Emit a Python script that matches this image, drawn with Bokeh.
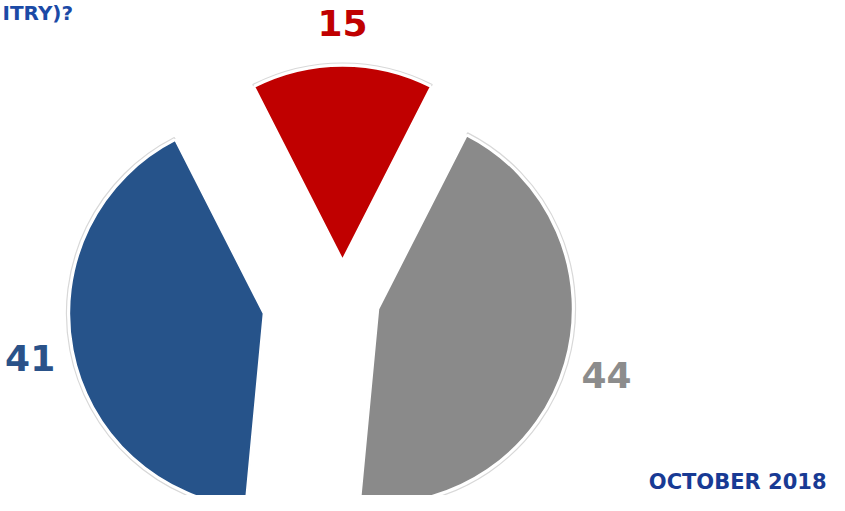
import math
from bokeh.plotting import figure
from bokeh.models import Range1d, ColumnDataSource
from bokeh.core.properties import value
from bokeh.embed import file_html
from bokeh.resources import INLINE

# ---- data ----
categories = ["Red", "Blue", "Gray"]
values = [15, 41, 44]
slice_colors = ["#C00000", "#26538A", "#8A8A8A"]
label_colors = ["#C00000", "#2A5289", "#8C8C8C"]
title_text = "ITRY)?"
date_text = "OCTOBER 2018"

# ---- style / geometry (pixel units; y measured upward from the 511px image bottom) ----
W, H = 829, 495
explode = [38, 80, 37]
radius = 195
label_r = 238
label_px = 36
cx, cy = 342, 511 - 298

total = float(sum(values))
start0 = math.pi / 2 - values[0] / total * math.pi  # first slice centred at top

starts, ends, xs, ys, lx, ly, texts = [], [], [], [], [], [], []
a = start0
for v, e in zip(values, explode):
    span = v / total * 2 * math.pi
    mid = a + span / 2
    ox = cx + e * math.cos(mid)
    oy = cy + e * math.sin(mid)
    starts.append(a)
    ends.append(a + span)
    xs.append(ox)
    ys.append(oy)
    lx.append(ox + label_r * math.cos(mid))
    ly.append(oy + label_r * math.sin(mid))
    texts.append(str(v))
    a += span

src = ColumnDataSource(dict(x=xs, y=ys, start=starts, end=ends, color=slice_colors,
                            lx=lx, ly=ly, text=texts, tcolor=label_colors, cat=categories))

p = figure(width=W, height=H, x_range=Range1d(0, W), y_range=Range1d(511 - H, 511),
           output_backend="svg", toolbar_location=None, x_axis_location=None,
           y_axis_location=None, min_border=0, outline_line_color=None)
p.grid.visible = False
p.background_fill_color = "white"

# faint shadow outline
p.wedge(x="x", y="y", radius=radius + 2.5, start_angle="start", end_angle="end",
        fill_color=None, line_color="#d8d8d8", line_width=1.2, source=src)
# slices
p.wedge(x="x", y="y", radius=radius, start_angle="start", end_angle="end",
        fill_color="color", line_color="white", line_width=2.5, source=src)

# value labels
p.text(x="lx", y="ly", text="text", text_color="tcolor", source=src,
       text_font=value("DejaVu Sans"), text_font_style="bold",
       text_font_size=value(f"{label_px}px"), text_align="center",
       text_baseline="middle")

# title fragment and date
p.text(x=[2], y=[511 - 12], text=[title_text], text_color="#1B4AA6",
       text_font=value("DejaVu Sans"), text_font_style="bold",
       text_font_size=value("20px"), text_align="left", text_baseline="middle")
p.text(x=[826], y=[511 - 481], text=[date_text], text_color="#183A94",
       text_font=value("DejaVu Sans"), text_font_style="bold",
       text_font_size=value("21px"), text_align="right", text_baseline="middle")

open("out.html", "w").write(file_html(p, INLINE))
